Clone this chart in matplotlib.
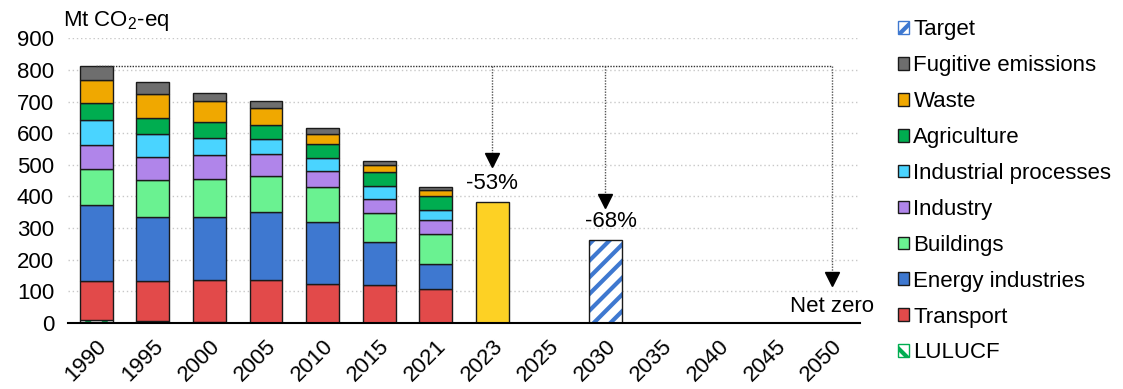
import numpy as np
import matplotlib.pyplot as plt
from matplotlib.patches import Patch

plt.rcParams['font.family'] = ['Liberation Sans', 'DejaVu Sans']
plt.rcParams['mathtext.fontset'] = 'custom'
plt.rcParams['mathtext.rm'] = 'Liberation Sans'
plt.rcParams['hatch.linewidth'] = 3.0

years = ['1990', '1995', '2000', '2005', '2010', '2015', '2021', '2023',
         '2025', '2030', '2035', '2040', '2045', '2050']

# historical sector emissions, Mt CO2-eq (1990..2021)
lulucf = [10, 6, 3, 1, 0, 0, 0]
transport = [123, 126, 133, 135, 122, 121, 107]
energy = [240, 204, 199, 215, 196, 136, 80]
buildings = [113, 117, 121, 114, 112, 91, 94]
industry = [77, 73, 74, 68, 52, 43, 44]
ind_processes = [80, 71, 55, 49, 41, 43, 32]
agriculture = [52, 51, 49, 45, 43, 44, 44]
waste = [72, 76, 68, 54, 32, 22, 18]
fugitive = [47, 39, 26, 20, 17, 13, 10]

total_2023 = 383
target_2030 = 262
labels_pct = ['-53%', '-68%']

sectors = [
    ('Transport', transport, '#E24A4A'),
    ('Energy industries', energy, '#3E78D0'),
    ('Buildings', buildings, '#6AF291'),
    ('Industry', industry, '#B085EA'),
    ('Industrial processes', ind_processes, '#4AD4FF'),
    ('Agriculture', agriculture, '#00AD50'),
    ('Waste', waste, '#F0A800'),
    ('Fugitive emissions', fugitive, '#6E6E6E'),
]

fig = plt.figure(figsize=(11.23, 3.89), dpi=100)
ax = fig.add_axes([0.0605, 0.1697, 0.7053, 0.7318])

x = np.arange(len(years))
xh = x[:len(transport)]
w = 0.58
ec = '#1a1a1a'

ax.bar(xh, lulucf, w, color='white', edgecolor='#00AD50', hatch='\\\\', linewidth=0, zorder=3)
ax.bar(xh, lulucf, w, color='none', edgecolor=ec, linewidth=1, zorder=3)
bottom = np.array(lulucf, dtype=float)
for name, vals, col in sectors:
    ax.bar(xh, vals, w, bottom=bottom, color=col, edgecolor=ec, linewidth=1, zorder=3)
    bottom += np.array(vals)

ax.bar(x[7], total_2023, w, color='#FDD124', edgecolor=ec, linewidth=1, zorder=3)
ax.bar(x[9], target_2030, w, color='white', edgecolor='#3E78D0', hatch='//', linewidth=0, zorder=3)
ax.bar(x[9], target_2030, w, color='none', edgecolor=ec, linewidth=1, zorder=3)

# reduction arrows from the 1990 level
top = bottom[0]
ax.plot([x[0], x[13]], [top, top], color='#333333', lw=1, ls=(0, (1, 1)), zorder=4)
for xi, yend in [(x[7], 515), (x[9], 385), (x[13], 140)]:
    ax.plot([xi, xi], [top, yend], color='#555555', lw=1, ls=(0, (1, 1)), zorder=4)
    ax.plot(xi, yend, marker='v', color='black', markersize=10, zorder=5, clip_on=False)

ax.text(x[7], 442, labels_pct[0], ha='center', va='center', fontsize=16)
ax.text(x[9] + 0.1, 320, labels_pct[1], ha='center', va='center', fontsize=16)
ax.text(x[13], 51, 'Net zero', ha='center', va='center', fontsize=16)

ax.set_xlim(-0.5, 13.5)
ax.set_ylim(0, 900)
ax.set_yticks(np.arange(0, 901, 100))
ax.set_xticks(x)
ax.set_xticklabels(years, rotation=45, ha='right', rotation_mode='anchor')
ax.tick_params(axis='both', length=0, labelsize=16)
ax.tick_params(axis='x', pad=9)
ax.tick_params(axis='y', pad=10)
ax.grid(axis='y', color='#C8C8C8', ls=(0, (1, 2)), lw=1, zorder=0)
for s in ['top', 'right', 'left']:
    ax.spines[s].set_visible(False)
ax.spines['bottom'].set_linewidth(1.5)
ax.spines['bottom'].set_zorder(6)

fig.text(0.056, 0.945, 'Mt CO$_2$-eq', fontsize=16, ha='left', va='center')

handles = [Patch(facecolor='white', edgecolor='#3E78D0', hatch='//', label='Target')]
for name, vals, col in reversed(sectors):
    handles.append(Patch(facecolor=col, edgecolor=ec, label=name))
handles.append(Patch(facecolor='white', edgecolor='#00AD50', hatch='\\\\', label='LULUCF'))

fig.legend(handles=handles, loc='upper left', bbox_to_anchor=(0.7857, 0.99),
           frameon=False, fontsize=16, handlelength=0.5, handleheight=0.5,
           handletextpad=0.2, labelspacing=0.67, borderaxespad=0.3)

fig.savefig('out.png', dpi=100)
